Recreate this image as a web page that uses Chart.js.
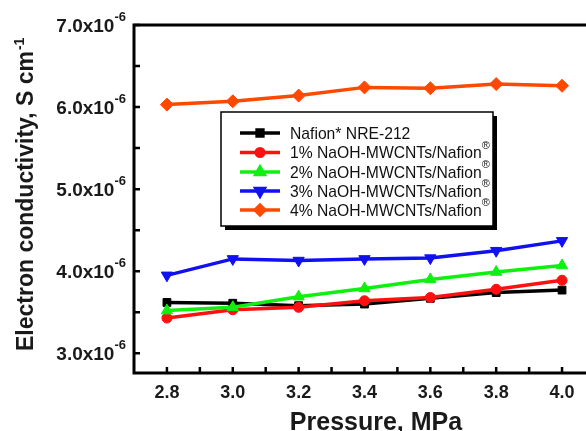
<!DOCTYPE html>
<html>
<head>
<meta charset="utf-8">
<script src="https://cdn.jsdelivr.net/npm/chart.js@4.4.1/dist/chart.umd.min.js"></script>
<style>
  html, body { margin: 0; padding: 0; background: #fff; }
  #wrap { width: 586px; height: 431px; }
</style>
</head>
<body>
<div id="wrap"><canvas id="chart" width="586" height="431"></canvas></div>
<script>
// values in units of 1e-6 S cm-1
const pressure = [2.8, 3.0, 3.2, 3.4, 3.6, 3.8, 4.0];
const nafion = [3.62, 3.61, 3.58, 3.60, 3.67, 3.74, 3.77];
const naoh1 = [3.43, 3.53, 3.56, 3.64, 3.68, 3.78, 3.89];
const naoh2 = [3.52, 3.56, 3.69, 3.79, 3.90, 3.99, 4.07];
const naoh3 = [3.95, 4.15, 4.13, 4.15, 4.16, 4.25, 4.37];
const naoh4 = [6.03, 6.07, 6.14, 6.24, 6.23, 6.28, 6.26];

const seriesLabels = ['Nafion* NRE-212', '1% NaOH-MWCNTs/Nafion', '2% NaOH-MWCNTs/Nafion',
  '3% NaOH-MWCNTs/Nafion', '4% NaOH-MWCNTs/Nafion'];
const yTickLabels = [3.0, 4.0, 5.0, 6.0, 7.0];
const yMinorTicks = [3.5, 4.5, 5.5, 6.5];
const xTickLabels = [2.8, 3.0, 3.2, 3.4, 3.6, 3.8, 4.0];
const xMinorTicks = [2.9, 3.1, 3.3, 3.5, 3.7, 3.9];

const FONT = '"Liberation Sans", Arial, sans-serif';

function series(label, values, color, style, rotation, order, radius) {
  return {
    label,
    data: pressure.map((p, i) => ({ x: p, y: values[i] })),
    borderColor: color,
    backgroundColor: color,
    borderWidth: 3.5,
    pointStyle: style,
    pointRotation: rotation,
    pointRadius: radius,
    pointBorderWidth: 1,
    order
  };
}

const datasets = [
  series(seriesLabels[0], nafion, '#000000', 'rect', 0, 5, 5.5),
  series(seriesLabels[1], naoh1, '#ff1010', 'circle', 0, 4, 5),
  series(seriesLabels[2], naoh2, '#10f010', 'triangle', 0, 3, 6.5),
  series(seriesLabels[3], naoh3, '#1010f0', 'triangle', 180, 2, 6.5),
  series(seriesLabels[4], naoh4, '#ff4800', 'rectRot', 0, 1, 6.5)
];

const frame = {
  id: 'frame',
  afterDatasetsDraw(chart) {
    const ctx = chart.ctx;
    const a = chart.chartArea;
    const W = chart.width;
    const xs = chart.scales.x, ys = chart.scales.y;
    ctx.save();

    // axes frame (left, bottom, top)
    ctx.strokeStyle = '#000';
    ctx.lineWidth = 3;
    ctx.beginPath();
    ctx.moveTo(W, a.top);
    ctx.lineTo(a.left, a.top);
    ctx.lineTo(a.left, a.bottom);
    ctx.lineTo(W, a.bottom);
    ctx.stroke();

    // inward ticks
    ctx.lineWidth = 2.5;
    ctx.beginPath();
    yTickLabels.concat(yMinorTicks).forEach(v => {
      const y = ys.getPixelForValue(v);
      ctx.moveTo(a.left, y);
      ctx.lineTo(a.left + 6, y);
    });
    xTickLabels.concat(xMinorTicks).forEach(v => {
      const x = xs.getPixelForValue(v);
      ctx.moveTo(x, a.bottom);
      ctx.lineTo(x, a.bottom - 6);
    });
    ctx.stroke();

    // y tick labels "n.0x10^-6"
    ctx.fillStyle = '#1a1a1a';
    ctx.textBaseline = 'alphabetic';
    ctx.textAlign = 'right';
    yTickLabels.forEach(v => {
      const y = ys.getPixelForValue(v);
      const rx = a.left - 8;
      ctx.font = 'bold 13px ' + FONT;
      ctx.fillText('-6', rx, y - 4);
      const w = ctx.measureText('-6').width;
      ctx.font = 'bold 19px ' + FONT;
      ctx.fillText(v.toFixed(1) + 'x10', rx - w, y + 7);
    });

    // x tick labels
    ctx.font = 'bold 18px ' + FONT;
    ctx.textAlign = 'center';
    xTickLabels.forEach(v => {
      ctx.fillText(v.toFixed(1), xs.getPixelForValue(v), a.bottom + 25);
    });

    // axis titles
    ctx.font = 'bold 25px ' + FONT;
    ctx.fillText('Pressure, MPa', 376, 430);

    ctx.save();
    ctx.translate(33, 351);
    ctx.rotate(-Math.PI / 2);
    ctx.textAlign = 'left';
    ctx.font = 'bold 23px ' + FONT;
    const t = 'Electron conductivity, S cm';
    ctx.fillText(t, 0, 0);
    const tw = ctx.measureText(t).width;
    ctx.font = 'bold 14px ' + FONT;
    ctx.fillText('-1', tw + 1, -9);
    ctx.restore();

    // legend box with shadow
    const bx = 221, by = 112, bw = 272, bh = 114;
    ctx.fillStyle = '#000';
    ctx.fillRect(bx + 4, by + 4, bw, bh);
    ctx.fillStyle = '#fff';
    ctx.fillRect(bx, by, bw, bh);
    ctx.strokeStyle = '#000';
    ctx.lineWidth = 1.5;
    ctx.strokeRect(bx, by, bw, bh);

    const rows = [133, 152.5, 172, 191, 210];
    chart.data.datasets.forEach((ds, i) => {
      const y = rows[i];
      ctx.strokeStyle = ds.borderColor;
      ctx.lineWidth = 3.5;
      ctx.beginPath();
      ctx.moveTo(240, y);
      ctx.lineTo(280, y);
      ctx.stroke();
      ctx.fillStyle = ds.backgroundColor;
      Chart.helpers.drawPoint(ctx, {
        pointStyle: ds.pointStyle,
        rotation: ds.pointRotation,
        radius: ds.pointRadius * 0.75,
        borderWidth: 1
      }, 260, y);

      ctx.fillStyle = '#111';
      ctx.textAlign = 'left';
      ctx.font = '15.7px ' + FONT;
      ctx.fillText(ds.label, 290, y + 5.5);
      if (i > 0) {
        const w = ctx.measureText(ds.label).width;
        ctx.font = '11px ' + FONT;
        ctx.fillText('\u00AE', 290 + w, y - 4);
      }
    });

    ctx.restore();
  }
};

new Chart(document.getElementById('chart'), {
  type: 'line',
  data: { datasets },
  options: {
    responsive: false,
    animation: false,
    layout: { padding: { left: 134, top: 25, right: 0, bottom: 58 } },
    plugins: { legend: { display: false }, tooltip: { enabled: false } },
    scales: {
      x: { type: 'linear', min: 2.7, max: 4.05, display: false },
      y: { type: 'linear', min: 2.76, max: 7.0, display: false }
    }
  },
  plugins: [frame]
});
</script>
</body>
</html>
